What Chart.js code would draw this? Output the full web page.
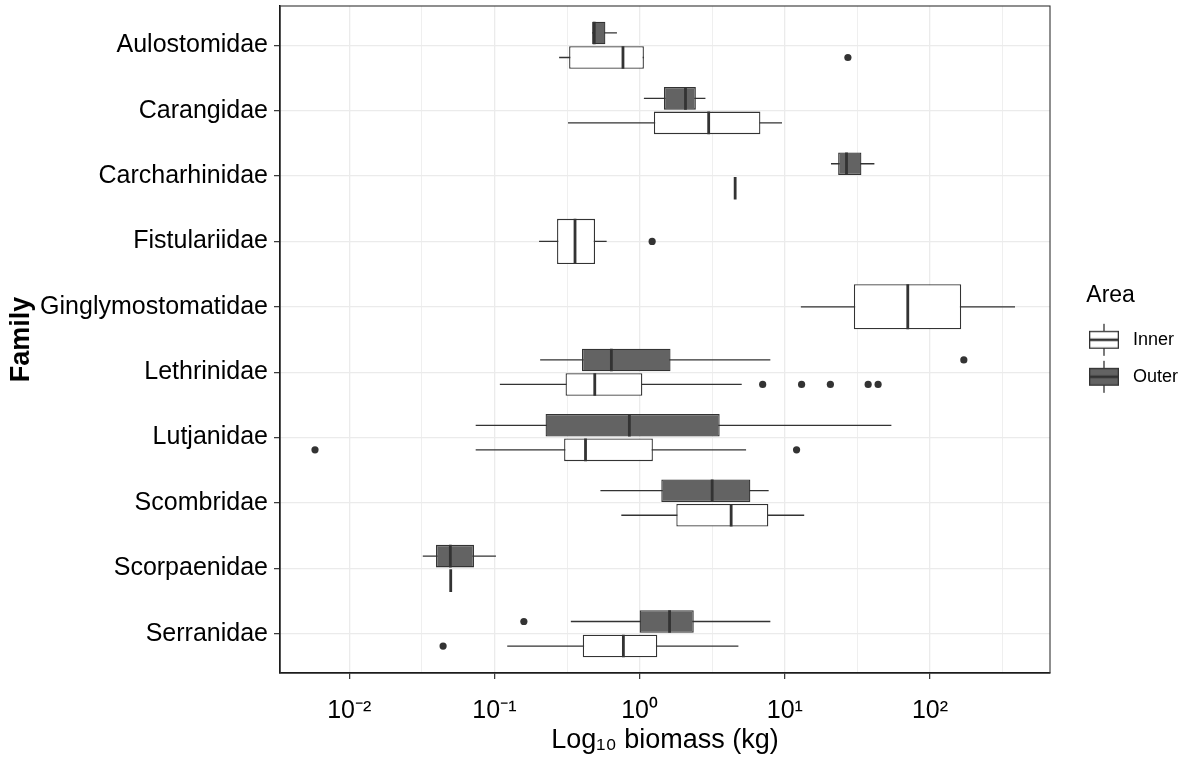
<!DOCTYPE html>
<html>
<head>
<meta charset="utf-8">
<title>Biomass by family</title>
<script src="https://cdn.jsdelivr.net/npm/chart.js@4.4.0/dist/chart.umd.min.js"></script>
<style>
  html, body { margin: 0; padding: 0; background: #fff; }
  #wrap { width: 1184px; height: 757px; position: relative; }
</style>
</head>
<body>
<div id="wrap"><canvas id="biomass-chart"></canvas></div>
<script>
// Families, top to bottom
const families = ['Aulostomidae', 'Carangidae', 'Carcharhinidae', 'Fistulariidae', 'Ginglymostomatidae',
                  'Lethrinidae', 'Lutjanidae', 'Scombridae', 'Scorpaenidae', 'Serranidae'];

// Inner area: whisker ends, quartiles and medians (kg)
const innerMin    = [0.279, 0.321, 4.55, 0.203, 12.9, 0.109, 0.0743, 0.748, 0.05, 0.1225];
const innerQ1     = [0.327, 1.254, 4.55, 0.270, 29.9, 0.309, 0.302, 1.79, 0.05, 0.406];
const innerMedian = [0.768, 2.99, 4.55, 0.359, 70.3, 0.491, 0.424, 4.27, 0.05, 0.773];
const innerQ3     = [1.07, 6.79, 4.55, 0.493, 164, 1.044, 1.234, 7.70, 0.05, 1.323];
const innerMax    = [1.07, 9.57, 4.55, 0.593, 385, 5.05, 5.41, 13.6, 0.05, 4.79];
const innerOutliers = [[27.2], [], [], [1.22], [], [7.04, 13.05, 20.6, 37.5, 43.9],
                       [0.00581, 12.05], [], [], [0.0443]];

// Outer area (null where the family was not sampled)
const outerMin    = [0.471, 1.07, 20.8, null, null, 0.2065, 0.0743, 0.537, 0.0321, 0.336];
const outerQ1     = [0.471, 1.47, 23.3, null, null, 0.401, 0.225, 1.41, 0.0396, 1.0];
const outerMedian = [0.487, 2.07, 26.6, null, null, 0.639, 0.85, 3.16, 0.0497, 1.608];
const outerQ3     = [0.581, 2.44, 33.7, null, null, 1.633, 3.56, 5.79, 0.0723, 2.36];
const outerMax    = [0.698, 2.84, 41.4, null, null, 7.95, 54.2, 7.74, 0.1024, 7.95];
const outerOutliers = [[], [], [], [], [], [171], [], [], [], [0.1595]];

// Decades that get a labelled tick
const xMajorExp = [-2, -1, 0, 1, 2];

const catPct = 0.75;
const barPct = 0.92;
const ink = '#333333';

Chart.defaults.font.family = "'Liberation Sans', Arial, sans-serif";
Chart.defaults.color = '#000';

const groups = [
  {area: 'Outer', fill: '#636363', min: outerMin, q1: outerQ1, med: outerMedian, q3: outerQ3, max: outerMax, out: outerOutliers},
  {area: 'Inner', fill: '#ffffff', min: innerMin, q1: innerQ1, med: innerMedian, q3: innerQ3, max: innerMax, out: innerOutliers}
];

// both areas present -> boxes are dodged, otherwise one box takes the full slot
const both = families.map((f, i) => innerMedian[i] != null && outerMedian[i] != null);
function rowY(i, area) {
  if (!both[i]) return i + 1;
  return area === 'Outer' ? i + 1 - catPct / 4 : i + 1 + catPct / 4;
}
function halfBox(i) {
  return both[i] ? catPct * barPct / 4 : catPct * barPct / 2;
}

const whiskerPts = [], medianPts = [], outlierPts = [];
groups.forEach(g => families.forEach((f, i) => {
  if (g.med[i] == null) return;
  const y = rowY(i, g.area), h = halfBox(i);
  whiskerPts.push({x: g.min[i], y: y}, {x: g.max[i], y: y}, {x: null, y: null});
  medianPts.push({x: g.med[i], y: y - h}, {x: g.med[i], y: y + h}, {x: null, y: null});
  g.out[i].forEach(v => outlierPts.push({x: v, y: y}));
}));

function boxData(g) {
  return families
    .map((f, i) => g.q1[i] == null ? null : {y: i + 1, x: [g.q1[i], g.q3[i]]})
    .filter(Boolean);
}

// x range: data extent on log scale, widened 5% each side
const allValues = [].concat(innerMin, innerMax, outerMin, outerMax, ...innerOutliers, ...outerOutliers)
  .filter(v => v != null);
const logLo = Math.log10(Math.min(...allValues));
const logHi = Math.log10(Math.max(...allValues));
const logPad = (logHi - logLo) * 0.05;
const xLo = Math.pow(10, logLo - logPad);
const xHi = Math.pow(10, logHi + logPad);

const xTickValues = [];
xMajorExp.forEach(e => { xTickValues.push(Math.pow(10, e)); xTickValues.push(Math.pow(10, e + 0.5)); });
const xTicksInRange = xTickValues.filter(v => v >= xLo && v <= xHi);

const supDigits = {'-': '\u207B', '0': '\u2070', '1': '\u00B9', '2': '\u00B2', '3': '\u00B3',
                   '4': '\u2074', '5': '\u2075', '6': '\u2076', '7': '\u2077', '8': '\u2078', '9': '\u2079'};
function isDecade(v) {
  const l = Math.log10(v);
  return Math.abs(l - Math.round(l)) < 1e-6;
}
function decadeLabel(v) {
  if (!isDecade(v)) return '';
  return '10' + String(Math.round(Math.log10(v))).split('').map(c => supDigits[c]).join('');
}

// legend key: box with whiskers and median, like the plotted boxes
function keyGlyph(fill) {
  const c = document.createElement('canvas');
  c.width = 55; c.height = 36;
  const g = c.getContext('2d');
  const x0 = 20, w = 30, cx = x0 + w / 2;
  g.strokeStyle = ink;
  g.lineWidth = 1.3;
  g.beginPath(); g.moveTo(cx, 2); g.lineTo(cx, 34); g.stroke();
  g.fillStyle = fill;
  g.fillRect(x0, 9, w, 18);
  g.strokeRect(x0 + 0.65, 9.65, w - 1.3, 16.7);
  g.lineWidth = 2.6;
  g.beginPath(); g.moveTo(x0, 18); g.lineTo(x0 + w, 18); g.stroke();
  return c;
}
const innerKey = keyGlyph('#ffffff');
const outerKey = keyGlyph('#636363');

const panelFrame = {
  id: 'panelFrame',
  afterDatasetsDraw(chart) {
    const {ctx, chartArea: a} = chart;
    ctx.save();
    ctx.strokeStyle = ink;
    ctx.lineWidth = 1.1;
    ctx.strokeRect(a.left, a.top, a.right - a.left, a.bottom - a.top);
    ctx.restore();
  }
};

const ctx = document.getElementById('biomass-chart').getContext('2d');
new Chart(ctx, {
  type: 'bar',
  data: {
    datasets: [
      {
        type: 'bar', label: 'Outer', data: boxData(groups[0]),
        backgroundColor: groups[0].fill, borderColor: ink, borderWidth: 1.3, borderSkipped: false,
        categoryPercentage: catPct, barPercentage: barPct, skipNull: true, order: 1
      },
      {
        type: 'bar', label: 'Inner', data: boxData(groups[1]),
        backgroundColor: groups[1].fill, borderColor: ink, borderWidth: 1.3, borderSkipped: false,
        categoryPercentage: catPct, barPercentage: barPct, skipNull: true, order: 2
      },
      {
        type: 'line', label: 'whiskers', data: whiskerPts,
        borderColor: ink, borderWidth: 1.3, pointRadius: 0, spanGaps: false, order: 3
      },
      {
        type: 'line', label: 'medians', data: medianPts,
        borderColor: ink, borderWidth: 2.8, borderCapStyle: 'butt', pointRadius: 0, spanGaps: false, order: 0
      },
      {
        type: 'line', label: 'outliers', data: outlierPts, showLine: false,
        pointRadius: 3.6, pointBackgroundColor: ink, pointBorderWidth: 0, order: 0
      }
    ]
  },
  options: {
    indexAxis: 'y',
    responsive: true,
    maintainAspectRatio: false,
    animation: false,
    layout: { padding: { top: 6, right: 0, bottom: 0, left: 0 } },
    scales: {
      x: {
        type: 'logarithmic', position: 'bottom', min: xLo, max: xHi, bounds: 'data', offset: false,
        afterBuildTicks: s => { s.ticks = xTicksInRange.map(v => ({value: v})); },
        afterFit: s => { s.height = 84; s.paddingLeft = 0; s.paddingRight = 0; },
        grid: {
          offset: false, color: '#ebebeb',
          lineWidth: c => (c.tick && isDecade(c.tick.value)) ? 1.3 : 0.8,
          tickColor: c => (c.tick && isDecade(c.tick.value)) ? ink : 'rgba(0,0,0,0)',
          tickLength: 6, tickWidth: 1.2
        },
        border: { color: '#000', width: 1.5 },
        ticks: {
          autoSkip: false, maxRotation: 0, minRotation: 0, padding: 17,
          font: { size: 25 }, color: '#000', callback: v => decadeLabel(v)
        },
        title: {
          display: true, text: 'Log\u2081\u2080 biomass (kg)', color: '#000',
          font: { size: 27 }, padding: { top: 0, bottom: 0 }
        }
      },
      y: {
        type: 'linear', position: 'left', reverse: true, min: 0.4, max: 10.6, bounds: 'data', offset: false,
        afterBuildTicks: s => { s.ticks = families.map((f, i) => ({value: i + 1})); },
        afterFit: s => { s.width = 280; s.paddingTop = 0; s.paddingBottom = 0; },
        grid: { offset: false, color: '#ebebeb', lineWidth: 1.3, tickColor: ink, tickLength: 6, tickWidth: 1.2 },
        border: { color: '#000', width: 1.5 },
        ticks: {
          autoSkip: false, padding: 6, font: { size: 25 }, color: '#000',
          callback: v => families[Math.round(v) - 1]
        },
        title: {
          display: true, text: 'Family', color: '#000',
          font: { size: 27, weight: 'bold' }, padding: { top: 5, bottom: 0 }
        }
      }
    },
    plugins: {
      tooltip: { enabled: false },
      legend: {
        position: 'right', fullSize: false, maxWidth: 134,
        title: {
          display: true, text: 'Area  ', position: 'center', color: '#000',
          font: { size: 23 }, padding: { top: 10, bottom: 0 }
        },
        labels: {
          usePointStyle: true, pointStyleWidth: 55, padding: 19,
          font: { size: 18 }, color: '#000',
          generateLabels: () => [
            { text: 'Inner', pointStyle: innerKey, fillStyle: '#ffffff', strokeStyle: ink, hidden: false, datasetIndex: 1 },
            { text: 'Outer', pointStyle: outerKey, fillStyle: '#636363', strokeStyle: ink, hidden: false, datasetIndex: 0 }
          ]
        }
      }
    }
  },
  plugins: [panelFrame]
});
</script>
</body>
</html>
